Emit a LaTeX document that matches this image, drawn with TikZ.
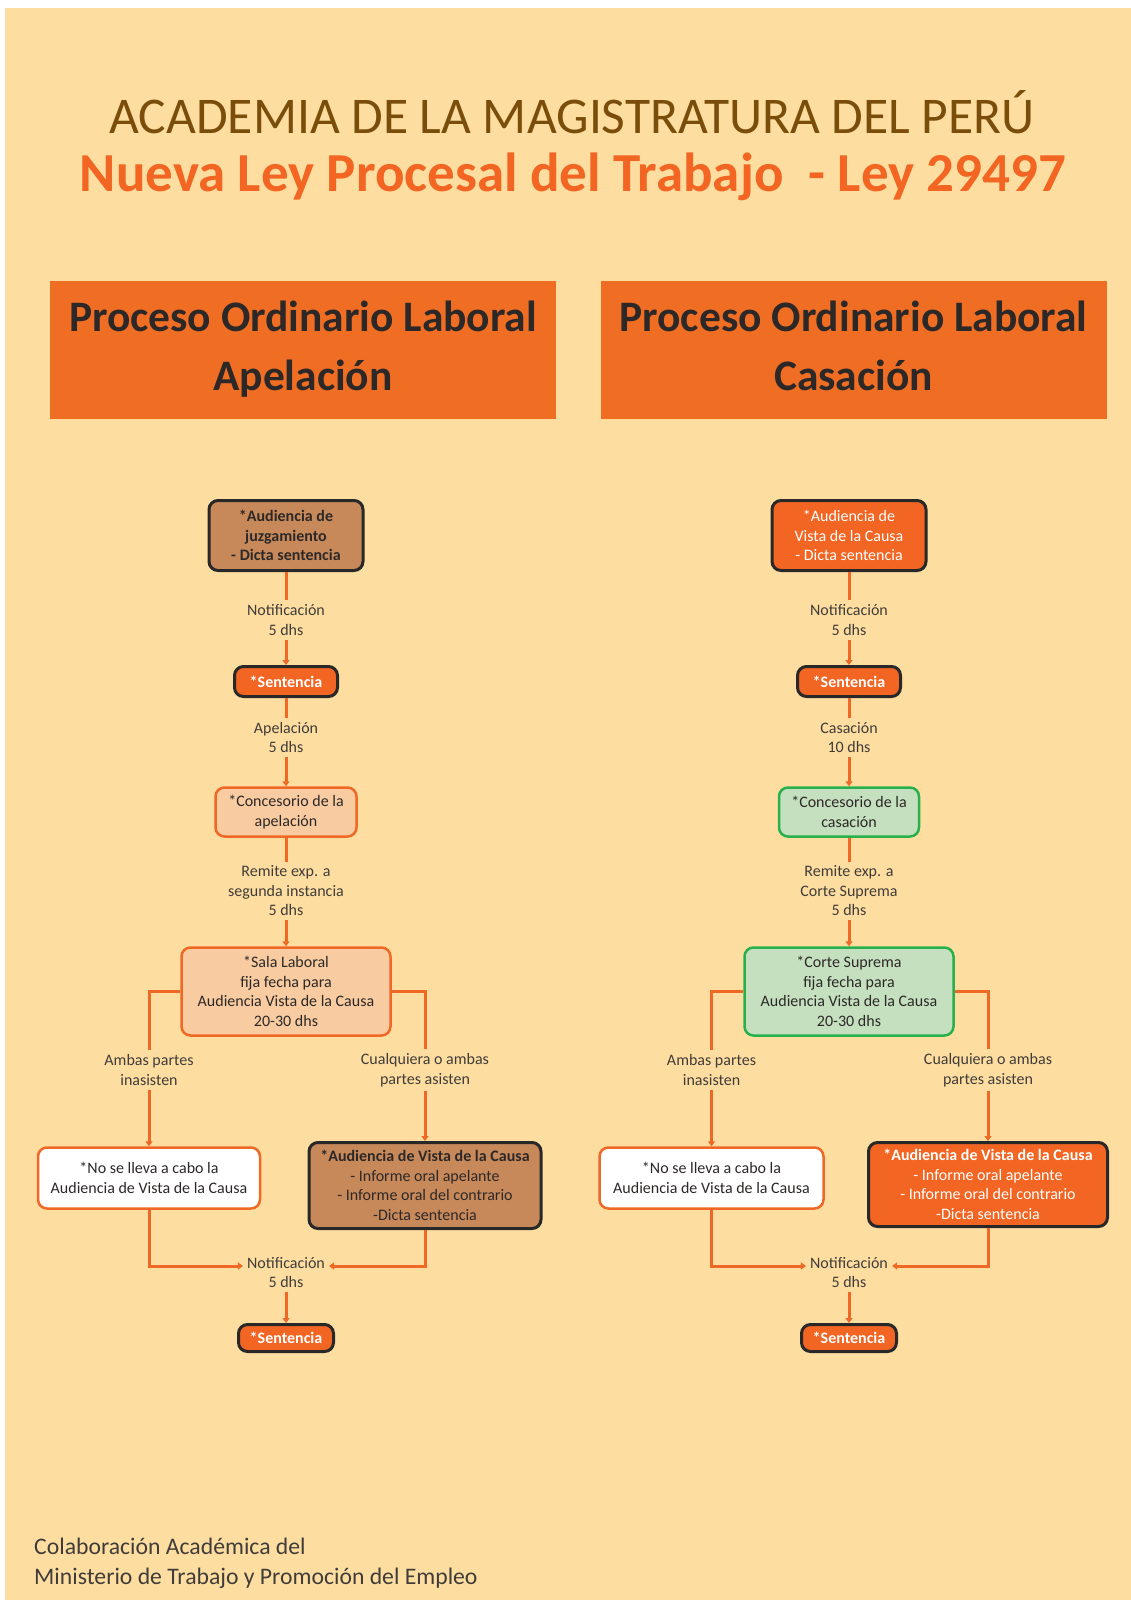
\documentclass[tikz,border=0pt]{standalone}
\usepackage{fontspec}
\setmainfont{Carlito}
\usepackage{tikz}
\usetikzlibrary{arrows.meta,positioning}
\definecolor{bgbeige}{RGB}{254,222,160}
\definecolor{ttlbrown}{RGB}{122,78,10}
\definecolor{lyorange}{RGB}{242,101,34}
\definecolor{hdorange}{RGB}{240,110,36}
\definecolor{lnorange}{RGB}{240,104,38}
\definecolor{boxtanfill}{RGB}{200,137,90}
\definecolor{boxpeachfill}{RGB}{248,204,160}
\definecolor{boxgreenfill}{RGB}{197,224,190}
\definecolor{lngreen}{RGB}{40,176,76}
\definecolor{lndark}{RGB}{40,40,40}
\definecolor{txtdark}{RGB}{45,40,40}
\definecolor{txtgray}{RGB}{64,60,58}
\newcommand{\flowfont}{\fontsize{16}{19.5}\selectfont}

\begin{document}
\begin{tikzpicture}[x=1pt,y=-1pt,
  hdr/.style={fill=hdorange, minimum width=506pt, minimum height=138pt, inner sep=0pt,
    text depth=9pt, align=center, text=txtdark, font=\fontsize{43.5}{59}\selectfont\bfseries},
  fbox/.style={rounded corners=9pt, line width=3pt, align=center, inner sep=2pt, font=\flowfont},
  boxtan/.style={fbox, fill=boxtanfill, draw=lndark, text=txtdark},
  boxorg/.style={fbox, fill=lyorange, draw=lndark, text=white},
  boxpeach/.style={fbox, fill=boxpeachfill, draw=lnorange, line width=2.5pt, text=txtdark},
  boxgreen/.style={fbox, fill=boxgreenfill, draw=lngreen, line width=2.5pt, text=txtdark},
  boxwhite/.style={fbox, fill=white, draw=lnorange, line width=2.5pt, text=txtdark},
  lbl/.style={font=\flowfont, text=txtgray, align=center, inner sep=4pt},
  conn/.style={draw=lnorange, line width=3pt},
  connarr/.style={conn, -{Triangle[length=5pt,width=7pt]}}]
% Page and background
\fill[white] (0,0) rectangle (1131,1600);
\fill[bgbeige] (5,8) rectangle (1131,1600);
\useasboundingbox (0,0) rectangle (1131,1600);
% Titles
\node[anchor=base, text=ttlbrown, font=\fontsize{51.5}{60}\selectfont] (ttl) at (572,134) {ACADEMIA DE LA MAGISTRATURA DEL PERÚ};
\node[anchor=base, text=lyorange, font=\fontsize{55}{64}\selectfont\bfseries] (subttl) at (573,191) {Nueva Ley Procesal del Trabajo~ - Ley 29497};
% Header boxes
\node[hdr] (hdApe) at (303,350) {Proceso Ordinario Laboral\\Apelación};
\node[hdr] (hdCas) at (853.5,350) {Proceso Ordinario Laboral\\Casación};

% Apelacion column
\node[boxtan, minimum width=154pt, minimum height=70pt, font=\flowfont\bfseries] (apAud) at (286,535.5) {*Audiencia de\\juzgamiento\\- Dicta sentencia};
\node[lbl] (apNot) at (286,620) {Notificación\\5 dhs};
\node[boxorg, minimum width=103pt, minimum height=30pt, font=\flowfont\bfseries] (apSent) at (286,681.5) {*Sentencia};
\node[lbl] (apApel) at (286,737.5) {Apelación\\5 dhs};
\node[boxpeach, minimum width=141pt, minimum height=49pt] (apConc) at (286,812) {*Concesorio de la\\apelación};
\node[lbl] (apRem) at (286,891) {Remite exp. a\\segunda instancia\\5 dhs};
\node[boxpeach, minimum width=209pt, minimum height=88pt] (apSala) at (286,991.5) {*Sala Laboral\\fija fecha para\\Audiencia Vista de la Causa\\20-30 dhs};
\node[lbl] (apAmb) at (149,1070) {Ambas partes\\inasisten};
\node[lbl] (apCual) at (425,1070) {Cualquiera o ambas\\partes asisten};
\node[boxwhite, minimum width=222pt, minimum height=61pt] (apNo) at (149,1178) {*No se lleva a cabo la\\Audiencia de Vista de la Causa};
\node[boxtan, minimum width=232pt, minimum height=86pt] (apVista) at (425,1185.5) {\textbf{*Audiencia de Vista de la Causa}\\- Informe oral apelante\\- Informe oral del contrario\\-Dicta sentencia};
\node[lbl] (apNotB) at (286,1272.5) {Notificación\\5 dhs};
\node[boxorg, minimum width=95pt, minimum height=27pt, font=\flowfont\bfseries] (apSentB) at (286,1338) {*Sentencia};
% Apelacion connectors
\draw[conn] (apAud) -- (apNot);
\draw[connarr] (apNot) -- (apSent);
\draw[conn] (apSent) -- (apApel);
\draw[connarr] (apApel) -- (apConc);
\draw[conn] (apConc) -- (apRem);
\draw[connarr] (apRem) -- (apSala);
\draw[conn] (apSala.west) -| (apAmb);
\draw[conn] (apSala.east) -| (apCual);
\draw[connarr] (apAmb) -- (apNo);
\draw[connarr] (apCual) -- (apVista);
\draw[connarr] (apNo) |- ([yshift=6.5pt]apNotB.west);
\draw[connarr] (apVista) |- ([yshift=6.5pt]apNotB.east);
\draw[connarr] (apNotB) -- (apSentB);

% Casacion column
\node[boxorg, minimum width=154pt, minimum height=70pt] (caAud) at (849,535.5) {*Audiencia de\\Vista de la Causa\\- Dicta sentencia};
\node[lbl] (caNot) at (849,620) {Notificación\\5 dhs};
\node[boxorg, minimum width=103pt, minimum height=30pt, font=\flowfont\bfseries] (caSent) at (849,681.5) {*Sentencia};
\node[lbl] (caCas) at (849,737.5) {Casación\\10 dhs};
\node[boxgreen, minimum width=140pt, minimum height=49pt] (caConc) at (849,812) {*Concesorio de la\\casación};
\node[lbl] (caRem) at (849,891) {Remite exp. a\\Corte Suprema\\5 dhs};
\node[boxgreen, minimum width=209pt, minimum height=88pt] (caCorte) at (849,991.5) {*Corte Suprema\\fija fecha para\\Audiencia Vista de la Causa\\20-30 dhs};
\node[lbl] (caAmb) at (711.5,1070) {Ambas partes\\inasisten};
\node[lbl] (caCual) at (988,1070) {Cualquiera o ambas\\partes asisten};
\node[boxwhite, minimum width=224pt, minimum height=61pt] (caNo) at (711.5,1178) {*No se lleva a cabo la\\Audiencia de Vista de la Causa};
\node[boxorg, minimum width=239pt, minimum height=84pt] (caVista) at (988,1184.5) {\textbf{*Audiencia de Vista de la Causa}\\- Informe oral apelante\\- Informe oral del contrario\\-Dicta sentencia};
\node[lbl] (caNotB) at (849,1272.5) {Notificación\\5 dhs};
\node[boxorg, minimum width=95pt, minimum height=27pt, font=\flowfont\bfseries] (caSentB) at (849,1338) {*Sentencia};
% Casacion connectors
\draw[conn] (caAud) -- (caNot);
\draw[connarr] (caNot) -- (caSent);
\draw[conn] (caSent) -- (caCas);
\draw[connarr] (caCas) -- (caConc);
\draw[conn] (caConc) -- (caRem);
\draw[connarr] (caRem) -- (caCorte);
\draw[conn] (caCorte.west) -| (caAmb);
\draw[conn] (caCorte.east) -| (caCual);
\draw[connarr] (caAmb) -- (caNo);
\draw[connarr] (caCual) -- (caVista);
\draw[connarr] (caNo) |- ([yshift=6.5pt]caNotB.west);
\draw[connarr] (caVista) |- ([yshift=6.5pt]caNotB.east);
\draw[connarr] (caNotB) -- (caSentB);

% Footer
\node[anchor=south west, inner sep=0pt, align=left, text=txtgray, font=\fontsize{23.7}{30.5}\selectfont] (foot) at (34,1589) {Colaboración Académica del\\Ministerio de Trabajo y Promoción del Empleo};
\end{tikzpicture}
\end{document}
